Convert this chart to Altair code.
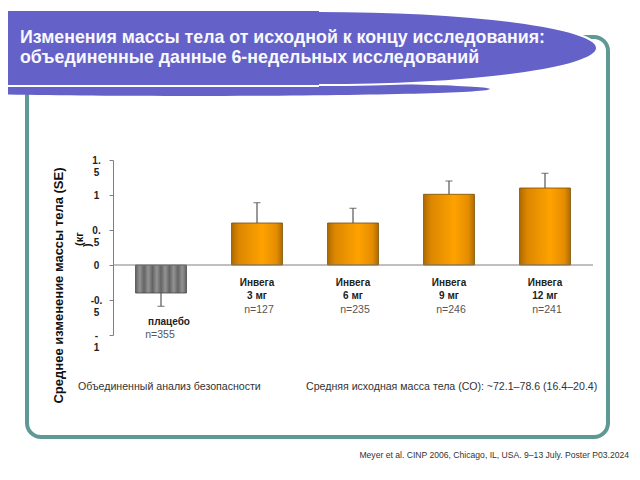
import altair as alt
import pandas as pd

categories = ["плацебо", "Инвега 3 мг", "Инвега 6 мг", "Инвега 9 мг", "Инвега 12 мг"]
name_line = ["плацебо", "Инвега", "Инвега", "Инвега", "Инвега"]
dose_line = ["", "3 мг", "6 мг", "9 мг", "12 мг"]
n_labels = ["n=355", "n=127", "n=235", "n=246", "n=241"]
mean_change = [-0.40, 0.60, 0.60, 1.01, 1.10]
se_values = [0.19, 0.29, 0.21, 0.19, 0.21]
y_ticks = [-1, -0.5, 0, 0.5, 1, 1.5]

title_lines = ["Изменения массы тела от исходной к концу исследования:",
               "объединенные данные 6-недельных исследований"]
y_title = "Среднее изменение массы тела (SE)"
y_unit_1 = "(кг"
y_unit_2 = ")"
note_left = "Объединенный анализ безопасности"
note_right = "Средняя исходная масса тела (СО): ~72.1–78.6 (16.4–20.4)"
citation = "Meyer et al. CINP 2006, Chicago, IL, USA. 9–13 July. Poster P03.2024"

df = pd.DataFrame({
    "cat": categories,
    "name": name_line,
    "dose": dose_line,
    "n": n_labels,
    "mean": mean_change,
    "se": se_values,
})
df["err_end"] = [m + (s if m >= 0 else -s) for m, s in zip(mean_change, se_values)]
df["placebo"] = [c == "плацебо" for c in categories]

FONT = "Liberation Sans"
PURPLE = "#6462c8"
TEAL = "#5f9996"
one = pd.DataFrame({"d": [0]})

x_enc = alt.X("cat:N", sort=categories,
              scale=alt.Scale(paddingInner=0.47, paddingOuter=0.235), axis=None)

label_expr = ("datum.value == 1.5 ? ['1.', '5'] : datum.value == 0.5 ? ['0.', '5'] : "
              "datum.value == -0.5 ? ['-0.', '5'] : datum.value == -1 ? ['-', '1'] : "
              "datum.value == 1 ? '1' : '0'")

y_axis = alt.Axis(values=y_ticks, labelExpr=label_expr, grid=False,
                  labelOverlap=False, labelFlush=False, labelBound=False,
                  labelFont=FONT, labelFontWeight="bold", labelFontSize=10,
                  labelColor="#222222", labelAlign="center", labelPadding=13,
                  labelBaseline="middle", labelLineHeight=12,
                  tickSize=4, tickColor="#808080", domainColor="#808080",
                  title=y_title, titleFont=FONT, titleFontSize=13,
                  titleFontWeight="bold", titleColor="#111111",
                  titleX=-55, titleY=125, titleAlign="center",
                  titleBaseline="middle", titleAngle=270)
y_scale = alt.Scale(domain=[-1, 1.5], nice=False, zero=False)

base = alt.Chart(df)

orange_grad = alt.LinearGradient(
    gradient="linear", x1=0, x2=1, y1=0, y2=0,
    stops=[alt.GradientStop(offset=0, color="#b06a00"),
           alt.GradientStop(offset=0.15, color="#dc8700"),
           alt.GradientStop(offset=0.6, color="#ffa200"),
           alt.GradientStop(offset=0.88, color="#e58d00"),
           alt.GradientStop(offset=1, color="#b06c00")])

gray_stops = []
n_str = 12
for i in range(n_str + 1):
    col = "#646464" if i % 2 == 0 else "#939393"
    gray_stops.append(alt.GradientStop(offset=i / n_str, color=col))
gray_grad = alt.LinearGradient(gradient="linear", x1=0, x2=1, y1=0, y2=0, stops=gray_stops)

frame = alt.Chart(one).mark_rect(fillOpacity=0, stroke=TEAL, strokeWidth=4, cornerRadius=14).encode(
    x=alt.value(-86), x2=alt.value(495), y=alt.value(-123), y2=alt.value(277))

band_path = "M-1,0C-1,-0.0129,-0.5523,-0.0233,0,-0.0233C0.5523,-0.0233,1,-0.0129,1,0C1,0.0129,0.5523,0.0233,0,0.0233C-0.5523,0.0233,-1,0.0129,-1,0Z"
main_path = "M-1,0C-1,-0.0735,-0.5523,-0.1331,0,-0.1331C0.5523,-0.1331,1,-0.0735,1,0C1,0.0735,0.5523,0.1331,0,0.1331C-0.5523,0.1331,-1,0.0735,-1,0Z"

band = alt.Chart(one).mark_point(shape=band_path, size=360000, filled=True, fill=PURPLE,
                                  strokeWidth=0, opacity=1).encode(
    x=alt.value(77), y=alt.value(-71))
white_line = alt.Chart(one).mark_rule(color="white", strokeWidth=2).encode(
    x=alt.value(-105), x2=alt.value(206), y=alt.value(-74))
ellipse = alt.Chart(one).mark_point(shape=main_path, size=309136, filled=True, fill=PURPLE,
                                     stroke="white", strokeWidth=2, opacity=1).encode(
    x=alt.value(206), y=alt.value(-112))
banner_rect = alt.Chart(one).mark_rect(color=PURPLE).encode(
    x=alt.value(-105), x2=alt.value(206), y=alt.value(-149), y2=alt.value(-75))
title = alt.Chart(one).mark_text(text=title_lines, align="left", baseline="alphabetic",
                                  font=FONT, fontSize=17.8, fontWeight="bold", color="#f8f8ff",
                                  lineHeight=20).encode(x=alt.value(-93), y=alt.value(-117))

unit1 = alt.Chart(one).mark_text(text=y_unit_1, angle=270, align="left", baseline="middle",
                                  font=FONT, fontSize=11, fontWeight="bold", color="#111111").encode(
    x=alt.value(-33), y=alt.value(86))
unit2 = alt.Chart(one).mark_text(text=y_unit_2, angle=270, align="left", baseline="middle",
                                  font=FONT, fontSize=11, fontWeight="bold", color="#111111").encode(
    x=alt.value(-25), y=alt.value(87))

zero_line = alt.Chart(one).mark_rule(color="#808080", strokeWidth=1).encode(
    x=alt.value(0), x2=alt.value(480),
    y=alt.Y(datum=0, type="quantitative", scale=y_scale, axis=y_axis))

bars_pl = base.transform_filter("datum.placebo").mark_bar(
    color=gray_grad, stroke="#444444", strokeWidth=0.8).encode(
    x=x_enc, y=alt.Y("mean:Q", scale=y_scale, axis=y_axis), y2=alt.datum(0))
bars_inv = base.transform_filter("!datum.placebo").mark_bar(
    color=orange_grad, stroke="#7a4c00", strokeWidth=0.8).encode(
    x=x_enc, y=alt.Y("mean:Q", scale=y_scale, axis=y_axis), y2=alt.datum(0))

err = base.mark_rule(color="#555555", strokeWidth=1.2).encode(
    x=x_enc, y=alt.Y("mean:Q", scale=y_scale, axis=y_axis), y2="err_end:Q")
caps = base.mark_tick(color="#555555", size=7, thickness=1.2).encode(
    x=x_enc, y=alt.Y("err_end:Q", scale=y_scale, axis=y_axis))

inv = base.transform_filter("!datum.placebo")
pl = base.transform_filter("datum.placebo")
lab_name = inv.mark_text(font=FONT, fontSize=10, fontWeight="bold", color="#222222").encode(
    x=x_enc, y=alt.value(123), text="name:N")
lab_dose = inv.mark_text(font=FONT, fontSize=10, fontWeight="bold", color="#222222").encode(
    x=x_enc, y=alt.value(136), text="dose:N")
lab_n = inv.mark_text(font=FONT, fontSize=10.5, color="#555555", dx=2).encode(
    x=x_enc, y=alt.value(150), text="n:N")
lab_pl = pl.mark_text(font=FONT, fontSize=10, fontWeight="bold", color="#222222", dx=8).encode(
    x=x_enc, y=alt.value(162), text="name:N")
lab_pl_n = pl.mark_text(font=FONT, fontSize=10.5, color="#555555", dx=-1).encode(
    x=x_enc, y=alt.value(175), text="n:N")

t_left = alt.Chart(one).mark_text(text=note_left, align="left", baseline="middle", font=FONT,
                                   fontSize=10.6, color="#333333").encode(
    x=alt.value(-35), y=alt.value(227))
t_right = alt.Chart(one).mark_text(text=note_right, align="left", baseline="middle", font=FONT,
                                    fontSize=10.6, color="#333333").encode(
    x=alt.value(193), y=alt.value(227))
t_cite = alt.Chart(one).mark_text(text=citation, align="right", baseline="middle", font=FONT,
                                   fontSize=8.6, color="#333333").encode(
    x=alt.value(516), y=alt.value(295))

chart = alt.layer(
    bars_pl, bars_inv, zero_line, err, caps,
    lab_name, lab_dose, lab_n, lab_pl, lab_pl_n,
    frame, band, white_line, ellipse, banner_rect, title, unit1, unit2,
    t_left, t_right, t_cite,
).properties(
    width=480, height=175,
    padding={"left": 105, "top": 152, "right": 39, "bottom": 133},
    autosize="none",
).configure_view(stroke=None).configure_axisY(labelOverlap=False)

chart.save("out.html", embed_options={"renderer": "svg", "actions": False})
